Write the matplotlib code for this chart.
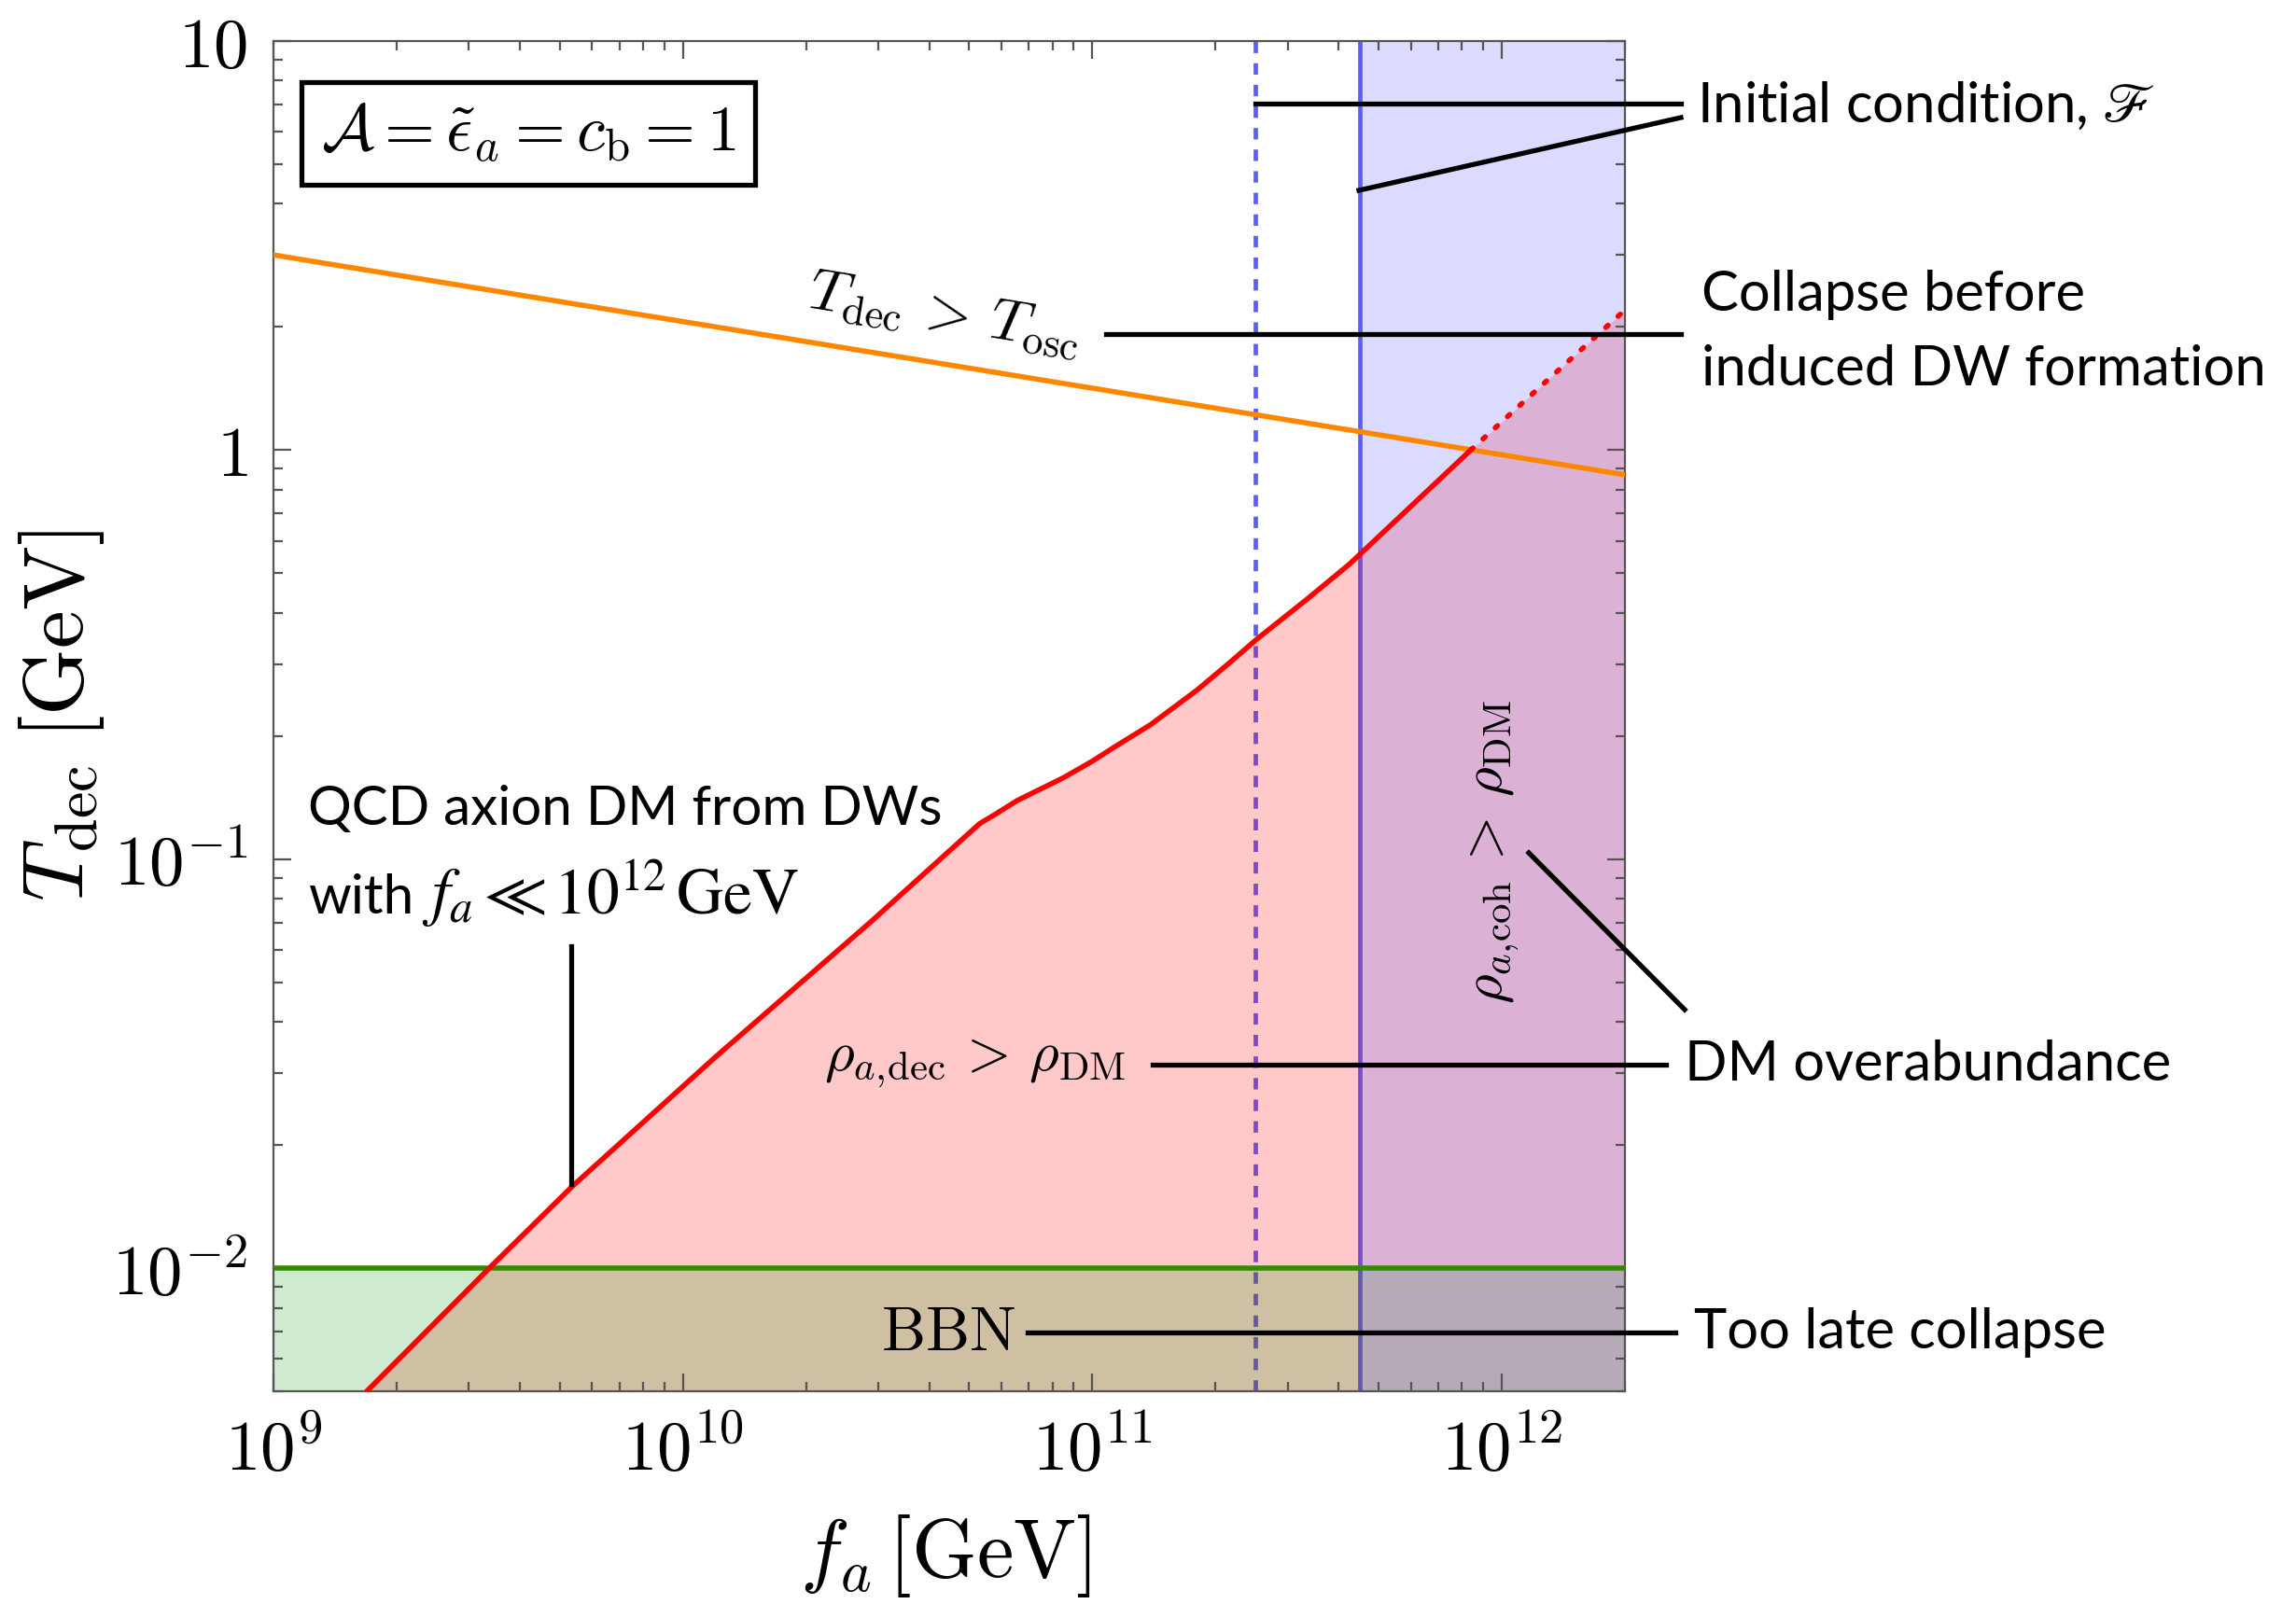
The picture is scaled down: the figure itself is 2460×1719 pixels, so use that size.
import numpy as np
import matplotlib
matplotlib.use("Agg")
import matplotlib.pyplot as plt
from matplotlib.lines import Line2D
from matplotlib.ticker import FixedLocator, FixedFormatter, NullFormatter

plt.rcParams['mathtext.fontset'] = 'cm'
plt.rcParams['font.family'] = ['Lato', 'DejaVu Sans']

# red boundary: rho_a,dec > rho_DM (solid part, then dotted above T_osc)
fa_red = [1.69e9, 3.4e9, 5.37e9, 1.2e10, 2.88e10, 5.3e10, 5.78e10, 6.55e10, 8.49e10,
          9.95e10, 1.143e11, 1.387e11, 1.803e11, 2.148e11, 2.523e11, 3.327e11,
          4.246e11, 8.4e11]
T_red = [5.0e-3, 1.01e-2, 1.585e-2, 3.28e-2, 7.03e-2, 0.122, 0.1285, 0.139, 0.158,
         0.173, 0.189, 0.213, 0.259, 0.300, 0.345, 0.430,
         0.526, 1.0]
fa_red_dot = [8.4e11, 1.32e12, 2.0e12]
T_red_dot = [1.0, 1.51, 2.2]

# orange: T_dec = T_osc
fa_osc = [1e9, 2e12]
T_osc = [3.0, 0.87]

# BBN bound
T_bbn = 1e-2

# initial condition lines
fa_init_dashed = 2.5e11
fa_init_solid = 4.5e11

xmin, xmax = 1e9, 2e12
ymin, ymax = 5e-3, 10

W, H = 2460, 1719
fig = plt.figure(figsize=(W / 200, H / 200), dpi=200)
ax = fig.add_axes([293 / W, 1 - 1491 / H, (1741 - 293) / W, (1491 - 44) / H])
ax.set_xscale('log')
ax.set_yscale('log')
ax.set_xlim(xmin, xmax)
ax.set_ylim(ymin, ymax)

blue = (0.36, 0.36, 1.0)

# vertical initial-condition lines (under the fills)
ax.axvline(fa_init_dashed, color=blue, lw=1.7, ls=(0, (2.6, 2.3)), zorder=0.5)
ax.axvline(fa_init_solid, color=blue, lw=1.7, zorder=0.5)

# fills
fa_fill = fa_red + fa_red_dot[1:]
T_fill = T_red + T_red_dot[1:]
ax.fill_between(fa_fill, ymin, T_fill, color=(1, 0, 0), alpha=0.21, lw=0, zorder=1)
ax.fill_between([xmin, xmax], ymin, T_bbn, color=(0.0, 0.6, 0.0), alpha=0.19, lw=0, zorder=1.1)
ax.fill_between([fa_init_solid, xmax], ymin, ymax, color=(0.4, 0.4, 1.0), alpha=0.23, lw=0, zorder=1.2)

# boundary lines
ax.plot(fa_osc, T_osc, color=(1.0, 0.53, 0.0), lw=2.0, zorder=3)
ax.axhline(T_bbn, color=(0.2, 0.55, 0.0), lw=2.0, zorder=3)
ax.plot(fa_red, T_red, color='red', lw=2.0, zorder=3)
ax.plot(fa_red_dot, T_red_dot, color='red', lw=2.0, ls=(0, (0.6, 2.6)),
        dash_capstyle='round', zorder=3)

# ticks
ax.xaxis.set_major_locator(FixedLocator([1e9, 1e10, 1e11, 1e12]))
ax.xaxis.set_major_formatter(FixedFormatter(['$10^{9}$', '$10^{10}$', '$10^{11}$', '$10^{12}$']))
ax.xaxis.set_minor_locator(FixedLocator([k * 10.0 ** e for e in range(9, 13) for k in range(2, 10)]))
ax.xaxis.set_minor_formatter(NullFormatter())
ax.yaxis.set_major_locator(FixedLocator([1e-2, 1e-1, 1, 10]))
ax.yaxis.set_major_formatter(FixedFormatter(['$10^{-2}$', '$10^{-1}$', '$1$', '$10$']))
ax.yaxis.set_minor_locator(FixedLocator([k * 10.0 ** e for e in range(-3, 1) for k in range(2, 10)]))
ax.yaxis.set_minor_formatter(NullFormatter())
ax.tick_params(which='both', direction='in', top=True, right=True, color='#555555', width=0.8)
ax.tick_params(which='major', length=7, labelsize=27, pad=10)
ax.tick_params(which='minor', length=3.5)
for s in ax.spines.values():
    s.set_color('#555555')
    s.set_linewidth(0.8)

ax.set_xlabel(r'$f_a\,[\mathrm{GeV}]$', fontsize=32, va='center')
ax.set_ylabel(r'$T_\mathrm{dec}\;[\mathrm{GeV}]$', fontsize=33, va='center')
ax.xaxis.set_label_coords(0.497, -0.122)
ax.yaxis.set_label_coords(-0.157, 0.5)


def fx(x):
    return x / W


def fy(y):
    return 1 - y / H


def leader(x0, y0, x1, y1):
    fig.add_artist(Line2D([fx(x0), fx(x1)], [fy(y0), fy(y1)], transform=fig.transFigure,
                          color='black', lw=1.9, zorder=5))


# parameter box
ax.text(fx(566), fy(143), r'$\mathcal{A}=\tilde{\epsilon}_a=c_\mathrm{b}=1$', transform=fig.transFigure,
        fontsize=25, ha='center', va='center', zorder=6,
        bbox=dict(boxstyle='square,pad=0.3', fc='white', ec='black', lw=1.9))

# labels inside the plot
fig.text(fx(1012), fy(338), r'$T_\mathrm{dec}\,>\,T_\mathrm{osc}$', fontsize=23,
         ha='center', va='center', rotation=-9.3, rotation_mode='anchor')
fig.text(fx(1045), fy(1140), r'$\rho_{a,\!\mathrm{dec}}\,>\,\rho_\mathrm{DM}$', fontsize=22,
         ha='center', va='center')
fig.text(fx(1602), fy(913), r'$\rho_{a,\!\mathrm{coh}}\,>\,\rho_\mathrm{DM}$', fontsize=22,
         ha='center', va='center', rotation=90)
fig.text(fx(1016), fy(1428), r'$\mathrm{BBN}$', fontsize=24, ha='center', va='center')
fig.text(fx(330), fy(867), 'QCD axion DM from DWs', fontsize=21, ha='left', va='center')
fig.text(fx(330), fy(962), 'with', fontsize=21, ha='left', va='center')
fig.text(fx(452), fy(958), r'$f_a \ll 10^{12}\,\mathrm{GeV}$', fontsize=25, ha='left', va='center',
         math_fontfamily='stix')

# right-hand annotations
fig.text(fx(1818), fy(113), r'Initial condition, $\mathscr{F}$', fontsize=21.5, ha='left', va='center',
         math_fontfamily='stix')
fig.text(fx(1823), fy(356), 'Collapse before\ninduced DW formation', fontsize=21.5, ha='left',
         va='center', linespacing=1.6)
fig.text(fx(1805), fy(1141), 'DM overabundance', fontsize=21.5, ha='left', va='center')
fig.text(fx(1815), fy(1428), 'Too late collapse', fontsize=21.5, ha='left', va='center')

leader(1345, 111, 1801, 111)
leader(1456, 204, 1801, 126)
leader(1185, 358, 1801, 358)
leader(1235, 1141, 1785, 1141)
leader(1638, 914, 1805, 1082)
leader(1101, 1428, 1795, 1428)
leader(612, 1014, 612, 1269)

fig.savefig('out.png', dpi=200)
